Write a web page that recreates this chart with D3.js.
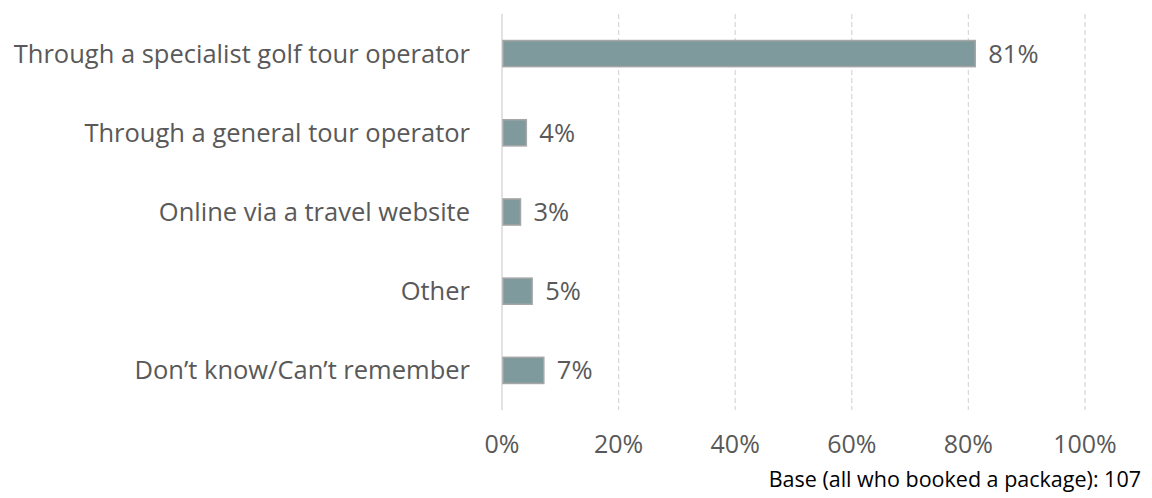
<!DOCTYPE html>
<html>
<head>
<meta charset="utf-8">
<script src="https://cdn.jsdelivr.net/npm/d3@7"></script>
<style>
  body { margin: 0; background: #fff; }
  svg text { font-family: "Open Sans", sans-serif; }
</style>
</head>
<body>
<div id="chart"></div>
<script>
const categories = [
    "Through a specialist golf tour operator",
    "Through a general tour operator",
    "Online via a travel website",
    "Other",
    "Don\u2019t know/Can\u2019t remember"
];
const values = [81, 4, 3, 5, 7];
const tickValues = [0, 20, 40, 60, 80, 100];
const footnote = "Base (all who booked a package): 107";

const width = 1152, height = 498;
const margin = {top: 14, left: 502, right: 67, bottom: 88};

const svg = d3.select("#chart")
    .append("svg")
    .attr("width", width)
    .attr("height", height);

const x = d3.scaleLinear()
    .domain([0, 100])
    .range([margin.left, width - margin.right]);

const y = d3.scaleBand()
    .domain(categories)
    .range([margin.top, height - margin.bottom])
    .paddingInner(0.67)
    .paddingOuter(0.335);

// gridlines (dashed), skip 0 which is the axis line
svg.append("g")
    .selectAll("line")
    .data(tickValues.filter(d => d > 0))
    .join("line")
    .attr("x1", d => x(d))
    .attr("x2", d => x(d))
    .attr("y1", margin.top)
    .attr("y2", height - margin.bottom)
    .attr("stroke", "#d9d9d9")
    .attr("stroke-width", 1.3)
    .attr("stroke-dasharray", "5,3");

// axis line
svg.append("line")
    .attr("x1", x(0))
    .attr("x2", x(0))
    .attr("y1", margin.top)
    .attr("y2", height - margin.bottom)
    .attr("stroke", "#d9d9d9")
    .attr("stroke-width", 1.5);

// bars
svg.append("g")
    .selectAll("rect")
    .data(values)
    .join("rect")
    .attr("x", x(0) + 1)
    .attr("y", (d, i) => y(categories[i]))
    .attr("width", d => x(d) - x(0))
    .attr("height", y.bandwidth())
    .attr("fill", "#7f9a9c")
    .attr("stroke", "#a6a6a6")
    .attr("stroke-width", 1.5);

// value labels
svg.append("g")
    .selectAll("text")
    .data(values)
    .join("text")
    .attr("x", d => x(d) + 14)
    .attr("y", (d, i) => y(categories[i]) + y.bandwidth() / 2)
    .attr("dy", "0.35em")
    .attr("fill", "#595959")
    .style("font-size", "25.5px")
    .text(d => d + "%");

// category labels
svg.append("g")
    .selectAll("text")
    .data(categories)
    .join("text")
    .attr("x", 470)
    .attr("y", d => y(d) + y.bandwidth() / 2)
    .attr("dy", "0.35em")
    .attr("text-anchor", "end")
    .attr("fill", "#595959")
    .style("font-size", "25.5px")
    .text(d => d);

// x tick labels
svg.append("g")
    .selectAll("text")
    .data(tickValues)
    .join("text")
    .attr("x", d => x(d))
    .attr("y", 444)
    .attr("dy", "0.35em")
    .attr("text-anchor", "middle")
    .attr("fill", "#595959")
    .style("font-size", "25px")
    .text(d => d + "%");

// footnote
svg.append("text")
    .attr("x", 1141)
    .attr("y", 487)
    .attr("text-anchor", "end")
    .attr("fill", "#000")
    .style("font-size", "21.5px")
    .text(footnote);
</script>
</body>
</html>
